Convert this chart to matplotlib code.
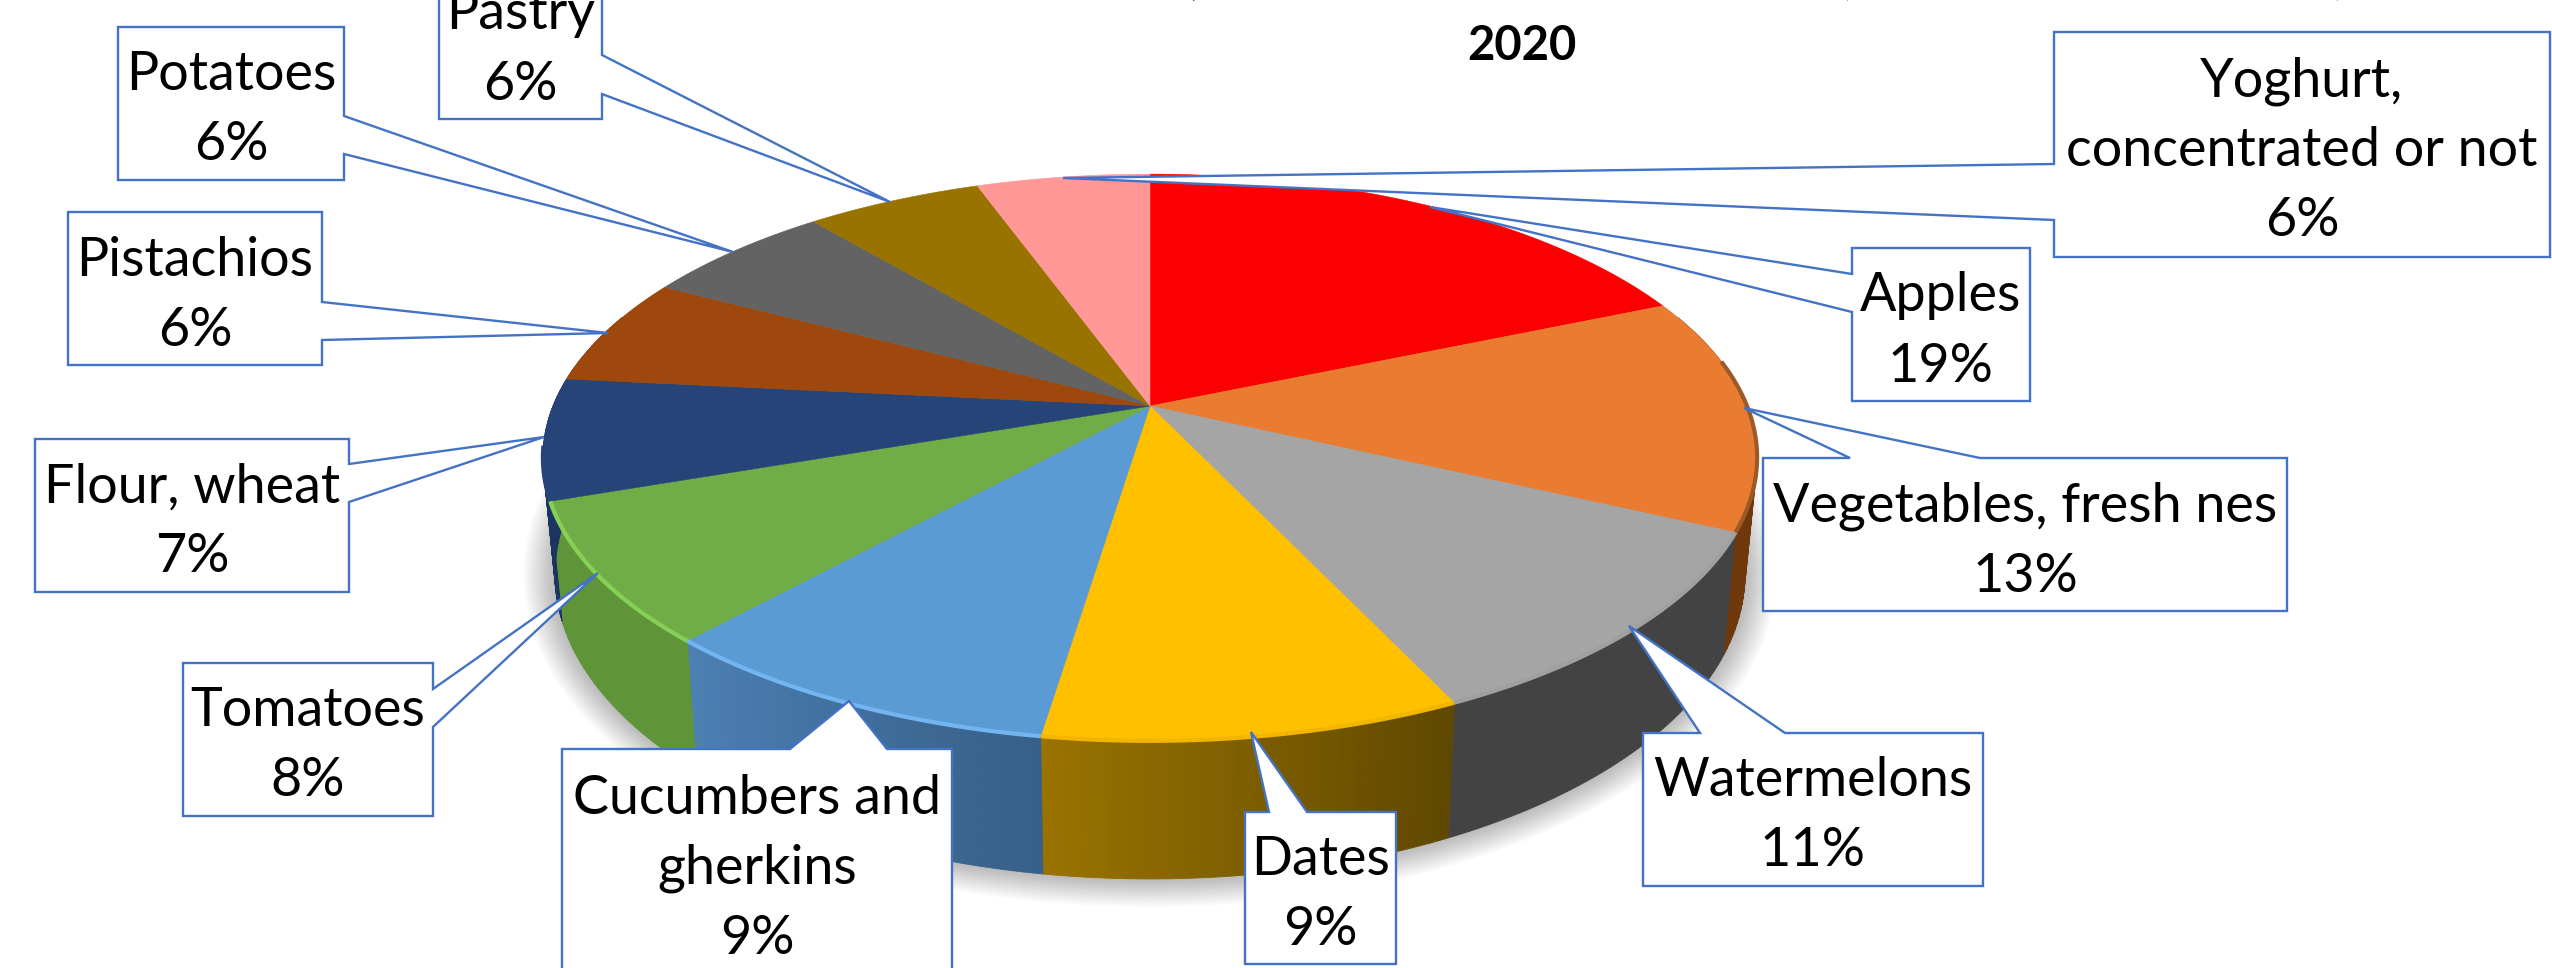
# Script to draw the 3D style pie chart of product shares with callout labels

import numpy as np
import matplotlib
matplotlib.use("Agg")
import matplotlib.pyplot as plt
from matplotlib.colors import to_rgb

plt.rcParams['font.family'] = ['Lato', 'DejaVu Sans']

# Data, clockwise from 12 o'clock
categories = ['Apples', 'Vegetables, fresh nes', 'Watermelons', 'Dates', 'Cucumbers and\ngherkins', 'Tomatoes',
              'Flour, wheat', 'Pistachios', 'Potatoes', 'Pastry', 'Yoghurt,\nconcentrated or not']
shares = [18.6, 13.4, 11.0, 9.4, 9.3, 8.0, 6.9, 6.2, 6.1, 5.6, 5.5]
title_year = '2020'

# Slice colours and the side wall colours (left end, right end on screen)
top_colours = ['#fb0000', '#e97c30', '#a5a5a5', '#ffc000', '#5b9bd5', '#70ad47',
               '#264478', '#9e480e', '#636363', '#997300', '#ff9896']
wall_colours = [('#8a0000', '#8a0000'), ('#6f380a', '#6f380a'), ('#434343', '#434343'), ('#9a7300', '#5e4700'),
                ('#4c80b3', '#365f88'), ('#5f9438', '#5f9438'), ('#1c3560', '#1c3560'), ('#6b3009', '#6b3009'),
                ('#434343', '#434343'), ('#664d00', '#664d00'), ('#aa6666', '#aa6666')]
rim_colours = ['#fb0000', '#9c5a28', '#a0a0a0', '#f2b600', '#72b5f0', '#86d155',
               '#264478', '#9e480e', '#636363', '#997300', '#ff9896']

# Callout layout: box (x0, y0, x1, y1), side of the pointer, pointer base 1, tip, pointer base 2
callouts = [
    ((1852, 248, 2030, 401), 'left', (1852, 274), (1430, 207), (1852, 312)),
    ((1763, 458, 2287, 611), 'top', (1850, 458), (1744, 408), (1980, 458)),
    ((1643, 733, 1983, 886), 'top', (1700, 733), (1629, 626), (1785, 733)),
    ((1245, 812, 1396, 964), 'top', (1269, 812), (1251, 732), (1307, 812)),
    ((562, 749, 952, 974), 'top', (790, 749), (849, 701), (887, 749)),
    ((183, 663, 433, 816), 'right', (433, 689), (598, 573), (433, 727)),
    ((35, 439, 349, 592), 'right', (349, 464), (544, 437), (349, 502)),
    ((68, 212, 322, 365), 'right', (322, 302), (608, 333), (322, 340)),
    ((118, 27, 344, 180), 'right', (344, 116), (733, 252), (344, 154)),
    ((439, -34, 602, 119), 'right', (602, 55), (890, 202), (602, 94)),
    ((2054, 32, 2550, 257), 'left', (2054, 164), (1063, 178), (2054, 220)),
]

# Perspective of the pie
centre_x, centre_y = 1150, 406
scale_x, scale_y, tilt = 597, 274, 0.1817
wall_depth, wall_shrink = 113, 0.98
line_pitch = 70
blue_line = '#4472c4'


def top_points(theta):
    # Angle clockwise from the top of the pie to picture pixels
    u, v = np.sin(theta), np.cos(theta)
    den = 1 + tilt * v
    return centre_x + scale_x * u / den, centre_y - scale_y * v / den


def bottom_points(theta):
    x, y = top_points(theta)
    return centre_x + (x - centre_x) * wall_shrink, y + wall_depth / (1 + tilt * np.cos(theta))


fig = plt.figure(figsize=(25.52, 9.68), dpi=100)
ax = fig.add_axes([0, 0, 1, 1])
ax.set_xlim(0, 2552)
ax.set_ylim(968, 0)
ax.axis('off')

edges = np.radians(np.cumsum([0] + shares) * 3.6)

# Soft shadow under the pie
ring = np.linspace(0, 2 * np.pi, 400)
bx, by = bottom_points(ring)
mid_y = (by.min() + by.max()) / 2
for grow in np.linspace(32, 2, 14):
    ax.fill(centre_x + (bx - centre_x) * (1 + grow / 600), mid_y + (by - mid_y) * (1 + grow / 350),
            color='black', alpha=0.018, lw=0, zorder=1)

# Side walls, split in strips so the colour can run across a slice
for i in range(len(shares)):
    start, stop = max(edges[i], np.pi / 2 - 0.35), min(edges[i + 1], 3 * np.pi / 2 + 0.35)
    if start >= stop:
        continue
    cuts = np.linspace(start, stop, 41)
    left, right = np.array(to_rgb(wall_colours[i][0])), np.array(to_rgb(wall_colours[i][1]))
    for j in range(40):
        part = np.linspace(cuts[j], cuts[j + 1], 4)
        tx, ty = top_points(part)
        lx, ly = bottom_points(part)
        mix = (j + 0.5) / 40
        colour = right + (left - right) * mix
        ax.fill(np.r_[tx, lx[::-1]], np.r_[ty, ly[::-1]], color=colour, lw=0.6, zorder=2 + i * 0.01)

# Top of the pie
for i in range(len(shares)):
    arc = np.linspace(edges[i], edges[i + 1], 80)
    ax_, ay_ = top_points(arc)
    ax.fill(np.r_[centre_x, ax_], np.r_[centre_y, ay_], color=top_colours[i], lw=0.4, zorder=3)
    # Lit edge along the front of the pie only
    front = (arc > np.radians(80)) & (arc < np.radians(262))
    if front.any():
        ax.plot(ax_[front], ay_[front], color=rim_colours[i], lw=3, zorder=3.1, solid_capstyle='butt')

# Callouts
for name, share, (box, side, base1, tip, base2) in zip(categories, shares, callouts):
    x0, y0, x1, y1 = box
    if side == 'top':
        shape = [(x0, y0), base1, tip, base2, (x1, y0), (x1, y1), (x0, y1)]
    elif side == 'right':
        shape = [(x0, y0), (x1, y0), base1, tip, base2, (x1, y1), (x0, y1)]
    else:
        shape = [(x0, y0), (x1, y0), (x1, y1), (x0, y1), base2, tip, base1]
    ax.fill(*zip(*shape), facecolor='white', edgecolor=blue_line, lw=1.7, joinstyle='miter', zorder=5)
    lines = name.split('\n') + [f'{share:.0f}%']
    for n, line in enumerate(lines):
        y = (y0 + y1) / 2 + (n - (len(lines) - 1) / 2) * line_pitch + 22
        ax.text((x0 + x1) / 2, y, line, ha='center', va='baseline', fontsize=38.8, color='black', zorder=6)

# Title, only the year and the feet of the line above are inside the picture
ax.text(1522, 60, title_year, ha='center', va='baseline', fontsize=34, fontweight='bold', color='black', zorder=6)
for x, mark in [(1195, ','), (1845, '('), (2339, ')')]:
    ax.text(x, -7, mark, ha='center', va='baseline', fontsize=34, fontweight='bold', color='black', zorder=6)

plt.savefig('out.png', dpi=100)
